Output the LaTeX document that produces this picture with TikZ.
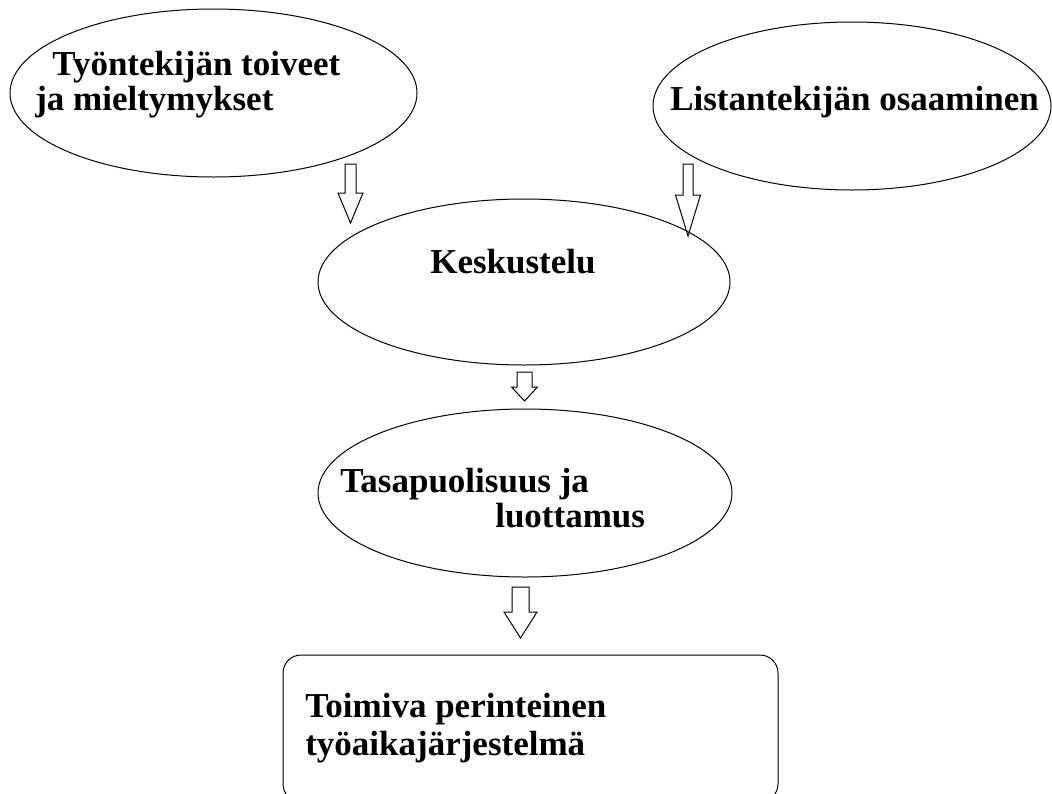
\documentclass[tikz,border=0pt]{standalone}
\usepackage{fontspec}
\setmainfont{Liberation Serif}
\usetikzlibrary{shapes,calc,positioning}
\tikzset{
        bubble/.style = {draw, ellipse, inner sep=0pt, line width=0.75pt},
        goalbox/.style = {draw, rectangle, rounded corners=13.5pt,
            inner sep=0pt, line width=0.75pt},
        txt/.style = {anchor=base west, inner sep=0pt,
            font=\fontsize{26.25pt}{30pt}\selectfont\bfseries},
        fatarrow/.style n args = {3}{draw, line width=0.75pt, to path={
            ($(\tikztostart)+(-#1,0)$) -- ($(\tikztostart)+(#1,0)$)
            -- ($(\tikztostart|-\tikztotarget)+(#1,-#3)$)
            -- ($(\tikztostart|-\tikztotarget)+(#2,-#3)$)
            -- (\tikztotarget)
            -- ($(\tikztostart|-\tikztotarget)+(-#2,-#3)$)
            -- ($(\tikztostart|-\tikztotarget)+(-#1,-#3)$) -- cycle}},
    }

\begin{document}
\begin{tikzpicture}[x=0.75pt,y=0.75pt,yscale=-1,xscale=1]
\useasboundingbox (0,0) rectangle (1052,793);

% Ellipses
\node [bubble, minimum width=305.25pt, minimum height=126pt] (wishes) at (213.5,93) {};
\node [bubble, minimum width=298.5pt, minimum height=126pt] (skill) at (852,106) {};
\node [bubble, minimum width=309pt, minimum height=124.5pt] (talk) at (524,282) {};
\node [bubble, minimum width=310.5pt, minimum height=126pt] (fair) at (525,493) {};
% Rounded Rect
\node [goalbox, minimum width=371.25pt, minimum height=110.25pt] (goal) at (530.5,728.5) {};

% Text Node
\node [txt] (wishesA) at (52,75) {Työntekijän toiveet};
\node [txt] (wishesB) at (35,110) {ja mieltymykset};
% Text Node
\node [txt] (skillT) at (670,110) {Listantekijän osaaminen};
% Text Node
\node [txt] (talkT) at (430,273) {Keskustelu};
% Text Node
\node [txt] (fairA) at (340,492) {Tasapuolisuus ja};
\node [txt] (fairB) at (495,527) {luottamus};
% Text Node
\node [txt] (goalA) at (305,717) {Toimiva perinteinen};
\node [txt] (goalB) at (305,755) {työaikajärjestelmä};

% Block Arrows
\coordinate (a1s) at (350.5,164);
\coordinate (a1e) at (350.5,223);
\draw [fatarrow={5.5}{12.5}{30}] (a1s) to (a1e);
\coordinate (a2s) at (688,164);
\coordinate (a2e) at (688,236);
\draw [fatarrow={5}{12.5}{41}] (a2s) to (a2e);
\coordinate (a3s) at (524.5,372);
\coordinate (a3e) at (524.5,401);
\draw [fatarrow={7.5}{13}{14}] (a3s) to (a3e);
\coordinate (a4s) at (520.5,587);
\coordinate (a4e) at (520.5,638);
\draw [fatarrow={8.5}{16.5}{26}] (a4s) to (a4e);

\end{tikzpicture}
\end{document}
